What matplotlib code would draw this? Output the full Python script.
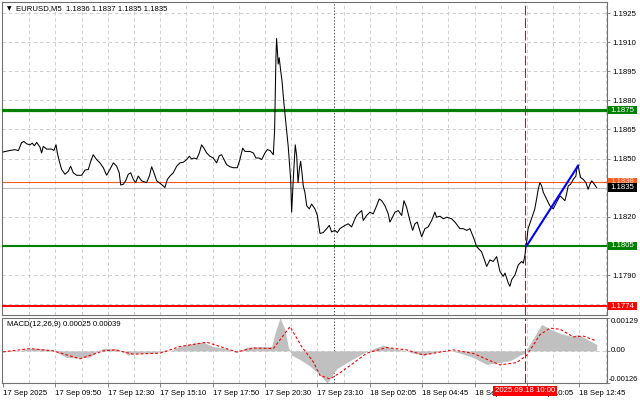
import matplotlib
matplotlib.use("Agg")
import matplotlib.pyplot as plt
from matplotlib.patches import Rectangle
from matplotlib.transforms import blended_transform_factory

plt.rcParams['font.family'] = ['Liberation Sans', 'DejaVu Sans']
plt.rcParams['lines.scale_dashes'] = False

# close price line, x = M5 bar number from the first visible bar
price_i = [0, 4.3, 7.3, 9.4, 11.4, 12.8, 14.5, 16.5, 17.9, 19.1, 20.6, 21.6, 22.6, 23.6, 24.6, 26.7,
           29.7, 31.1, 32.4, 33.2, 34.4, 35.8, 37.9, 39.9, 41.3, 42.9, 45, 48, 50.1, 52.1, 53.6, 55.1,
           57.2, 59.2, 61.3, 63.3, 65.3, 67.4, 69.4, 71, 71.9, 73.5, 75.1, 76.5, 78, 79.6, 81, 82.6,
           84.7, 87.7, 89.4, 90.8, 92.2, 93.9, 95.9, 97.9, 98.9, 100.4, 102, 104, 106.1, 108.1, 110.1,
           112.2, 113.8, 115.2, 116.6, 118.3, 119.9, 121.3, 122.7, 124.4, 126.4, 128.4, 130.5, 132.1,
           133.5, 135, 136.6, 138.6, 140.6, 143.1, 144.7, 146.4, 147.8, 150.8, 152.9, 154.5, 156.5,
           158, 160, 161.4, 163.1,
           165.1, 165.9, 166.7, 167.1, 168.1, 168.7, 169.6, 170.4, 171.6, 172.8, 174.2, 175.7, 176.3,
           177.3, 178.5, 179.4, 180.2, 181, 181.8, 182.6, 183.4, 184.4, 185.5, 187.1, 188.5, 190.5,
           192, 193.6, 195.6, 197.7, 199.3, 200.7, 202.7, 204.2, 205.8,
           208.9, 210.9, 212.9, 215, 216, 218, 219.1, 220, 222.1, 224.1, 226.1, 228.2, 229.8, 231.3,
           233.3, 235.3, 236.3, 237.4, 239.4, 241.4, 243.5, 244.9, 246.5, 248.5, 250.2, 251.6, 253,
           254.2, 255.7, 257.7, 259.7, 261.8, 263.8, 264.8, 266.9, 268.9, 271, 274, 276, 279.1, 281.1,
           283.2, 285.2, 287.6, 289.3, 292.3, 294.4, 295.4, 297.4, 299.4, 301.5, 303.5, 305.5, 306.6,
           308.6, 309.6, 310.7, 312.7, 314.7, 316.8, 317.8, 318.8, 319.8,
           320.7, 322.8, 323.8, 324.8, 325.9, 326.9, 327.9, 329, 330, 332, 334, 336.1, 338.1, 340.2,
           342.2, 343.2, 344.2, 345.2, 346.7, 348.3, 349.9, 350.7, 351.3, 351.9, 352.8, 354.4, 356,
           357.4, 358.5, 359.5, 360.5, 362.6]
price_v = [1.18534, 1.18542, 1.18546, 1.18541, 1.18583, 1.18588, 1.18576, 1.18571, 1.18580, 1.18566,
           1.18583, 1.18571, 1.18559, 1.18529, 1.18563, 1.18549, 1.18549, 1.18542, 1.18571, 1.18529,
           1.18486, 1.18444, 1.18419, 1.18435, 1.18461, 1.18427, 1.18414, 1.18414, 1.18441, 1.18444,
           1.18486, 1.18520, 1.18495, 1.18478, 1.18453, 1.18414, 1.18444, 1.18478, 1.18461, 1.18427,
           1.18364, 1.18368, 1.18388, 1.18419, 1.18427, 1.18393, 1.18376, 1.18410,
           1.18385, 1.18376, 1.18410, 1.18458, 1.18427, 1.18385, 1.18373, 1.18359, 1.18351, 1.18393,
           1.18410, 1.18427, 1.18461, 1.18478, 1.18481, 1.18495, 1.18512, 1.18498, 1.18503, 1.18498,
           1.18529, 1.18571, 1.18554, 1.18529, 1.18512, 1.18503, 1.18478, 1.18515, 1.18520, 1.18495,
           1.18469, 1.18458, 1.18453, 1.18453, 1.18495, 1.18554, 1.18537, 1.18537, 1.18529, 1.18503,
           1.18503, 1.18495, 1.18529, 1.18546, 1.18542,
           1.18520, 1.18647, 1.19020, 1.19119, 1.18987, 1.19020, 1.18953, 1.18902, 1.18783, 1.18682,
           1.18563, 1.18393, 1.18224, 1.18393, 1.18571, 1.18512, 1.18376, 1.18444, 1.18486, 1.18427,
           1.18359, 1.18326, 1.18257, 1.18241, 1.18266, 1.18241, 1.18207, 1.18114, 1.18119, 1.18139,
           1.18156, 1.18122, 1.18130, 1.18119, 1.18139,
           1.18156, 1.18164, 1.18148, 1.18190, 1.18207, 1.18224, 1.18232, 1.18181, 1.18207, 1.18224,
           1.18215, 1.18257, 1.18292, 1.18283, 1.18257, 1.18215, 1.18173, 1.18190, 1.18224, 1.18232,
           1.18207, 1.18283, 1.18249, 1.18181, 1.18130, 1.18164, 1.18173, 1.18139, 1.18097, 1.18139,
           1.18148, 1.18181, 1.18224, 1.18198, 1.18203, 1.18190, 1.18198, 1.18190, 1.18173, 1.18139,
           1.18139, 1.18130, 1.18139, 1.18088, 1.18046, 1.18020, 1.17970, 1.17944, 1.17978, 1.17970,
           1.17995, 1.17919, 1.17893, 1.17910, 1.17859, 1.17842, 1.17876, 1.17901, 1.17952, 1.17970,
           1.17961, 1.18003, 1.18071,
           1.18139, 1.18190, 1.18215, 1.18241, 1.18292, 1.18342, 1.18376, 1.18359, 1.18326, 1.18292,
           1.18257, 1.18241, 1.18275, 1.18308, 1.18292, 1.18283, 1.18317, 1.18359, 1.18368, 1.18393,
           1.18410, 1.18461, 1.18464, 1.18435, 1.18402, 1.18393, 1.18376, 1.18342, 1.18368, 1.18385,
           1.18376, 1.18350]

# MACD(12,26,9) histogram and signal
hist_i = [0, 8.4, 16.5, 24.6, 30.7, 33.8, 38.9, 45, 53.1, 57.2, 61.3, 69.4, 73.5, 76.5, 79.6, 87.7,
          95.9, 102, 108.1, 116.2, 122.3, 128.4, 136.6, 142.7, 148.8, 156.9, 164.1, 166.1, 169.2,
          172.2, 174.2, 176.3, 181.4, 187.5, 193.6, 198, 203.8, 214, 222.1, 232.2, 238.4, 244.5,
          250.6, 256.7, 264.9, 273, 279.1, 287.2, 295.4, 301.5, 309.6, 315.7, 318.8, 320.8, 324.9,
          329, 334, 340.2, 346.3, 351.3, 356.4, 362.6]
hist_v = [-0.00003, 0, 0.0001, 0.00009, 0.00002, -0.00009, -0.00026, -0.00028, -0.00024, -0.00004,
          0.0001, 0.00009, -0.00004, -0.00017, -0.0001, -0.00009, -0.00004, 0, 0.00017, 0.0003,
          0.00034, 0.00017, 0.00009, -0.00007, 0.00015, 0.00017, 0.00017, 0.0007, 0.00129, 0.00086,
          0.00017, -0.00017, -0.00034, -0.0006, -0.00095, -0.00126, -0.0007, -0.00031, -0.00002, 0.00023,
          0.00009, 0.00003, -0.00009, -0.00017, -0.00004, 0.00002, -0.00009, -0.00026, -0.00053, -0.00047,
          -0.00039, -0.00017, -0.00009, 0.00017, 0.0006, 0.00104, 0.00086, 0.00069, 0.00058, 0.00064,
          0.00047, 0.00025]
sig_i = [0, 16.5, 30.7, 47, 61.3, 68.4, 79.6, 95.9, 108.1, 124.4, 142.7, 152.9, 165.1, 175.3, 182.4,
         189.5, 193.6, 199.7, 205.8, 214, 222.1, 234.3, 246.5, 256.7, 275, 287.2, 303.5, 313.7, 319.8,
         327.9, 334, 340.2, 348.3, 354.4, 362.6]
sig_v = [-0.00004, 0.00009, 0, -0.00031, 0, 0.00004, -0.00013, -0.00009, 0.00017, 0.00034,
         -0.00004, 0.00011, 0.00009, 0.00095, 0.00017, -0.00043, -0.00096, -0.0011, -0.00086, -0.00048,
         -0.00009, 0.00013, 0.00004, -0.00016, 0.00004, -0.0001, -0.00055, -0.00046, -0.00018, 0.00063,
         0.00089, 0.00085, 0.00055, 0.00058, 0.00039]

# drawn objects
trend_i = [319.8, 351.3]
trend_v = [1.18050, 1.18464]
support_res = [1.1875, 1.1805, 1.1774]
level_colors = ['#008000', '#008000', '#ff0000']
level_widths = [2.3, 1.5, 1.4]
ask_price = 1.1838
bid_price = 1.1835
event_i = 319
event_label = '2025.09.18 10:00'
day_sep_i = 202

time_i = [0, 32, 64, 96, 128, 160, 192, 224, 256, 288, 320, 352]
time_labels = ['17 Sep 2025', '17 Sep 09:50', '17 Sep 12:30', '17 Sep 15:10', '17 Sep 17:50',
               '17 Sep 20:30', '17 Sep 23:10', '18 Sep 02:05', '18 Sep 04:45', '18 Sep 07:25',
               '18 Sep 10:05', '18 Sep 12:45']
price_ticks = [1.1775, 1.1790, 1.1805, 1.1820, 1.1835, 1.1850, 1.1865, 1.1880, 1.1895, 1.1910, 1.1925]
# tick labels that sit under a price box are not shown
hidden_ticks = [1.1775, 1.1805, 1.1835]

fs = 5.6
grid_kw = dict(color='#c8c8c8', lw=0.6, ls=(0, (2.5, 2)), zorder=0)
spine_col = '#707070'

fig = plt.figure(figsize=(6.4, 4.01), dpi=100)
W, H = 640, 401
ax = fig.add_axes([2 / W, 1 - 315 / H, 605 / W, 313 / H])
ax2 = fig.add_axes([2 / W, 1 - 383 / H, 605 / W, 65 / H])

for a in (ax, ax2):
    a.set_xlim(-0.6, 368.9)
    for s in a.spines.values():
        s.set_color(spine_col)
        s.set_linewidth(0.8)
    for g in range(16, 369, 16):
        a.axvline(g, **grid_kw)
    a.axvline(day_sep_i, color='#505050', lw=0.7, ls=(0, (1, 1.3)), zorder=1)
    a.axvline(event_i, color='#ff0000', lw=0.8, ls=(0, (7, 2)), zorder=4)

# ---- main price panel
ax.set_ylim(1.17694, 1.19307)
for p in price_ticks:
    ax.axhline(p, **grid_kw)
ax.yaxis.tick_right()
ax.set_yticks(price_ticks)
ax.set_yticklabels(['' if p in hidden_ticks else '%.4f' % p for p in price_ticks])
ax.tick_params(axis='y', labelsize=fs, length=2.5, width=0.6, color=spine_col, pad=1.5)
ax.set_xticks([])

ax.axhline(bid_price, color='#c0c0c0', lw=0.8, zorder=2)
ax.axhline(ask_price, color='#ff5a1e', lw=0.8, zorder=2)
for lv, c, w in zip(support_res, level_colors, level_widths):
    ax.axhline(lv, color=c, lw=w, zorder=3)

ax.plot(price_i, price_v, color='black', lw=0.75, zorder=5)
ax.plot(trend_i, trend_v, color='#0000ff', lw=1.5, zorder=6)

ytrans = blended_transform_factory(ax.transAxes, ax.transData)
box_h = 0.00045


def price_box(val, face, txt_col):
    ax.add_patch(Rectangle((1.0017, val - box_h / 2), 0.048, box_h, transform=ytrans,
                           facecolor=face, edgecolor='none', clip_on=False, zorder=10))
    ax.text(1.0017 + 0.024, val, '%.4f' % val, transform=ytrans, ha='center', va='center',
            fontsize=fs, color=txt_col, clip_on=False, zorder=11)


price_box(1.1875, '#008000', 'white')
price_box(ask_price, '#ff5a1e', '#ffd8c8')
price_box(bid_price, '#000000', 'white')
price_box(1.1805, '#008000', 'white')
price_box(1.1774, '#ff0000', 'white')

ax.text(5 / 605, 1 - 7 / 313, '\u25bc', transform=ax.transAxes, fontsize=4.2, va='center',
        ha='left', family=['DejaVu Sans'])
ax.text(14 / 605, 1 - 7 / 313, 'EURUSD,M5  1.1836 1.1837 1.1835 1.1835', transform=ax.transAxes,
        fontsize=fs, va='center', ha='left')

# ---- MACD panel
ax2.set_ylim(-0.00126, 0.00129)
ax2.axhline(0, **grid_kw)
ax2.fill_between(hist_i, 0, hist_v, color='#c0c0c0', lw=0, zorder=2)
ax2.plot(sig_i, sig_v, color='#ff0000', lw=0.8, ls=(0, (2, 1.5)), zorder=3)
ax2.yaxis.tick_right()
ax2.set_yticks([-0.00126, 0, 0.00129])
ax2.set_yticklabels([])
ax2.tick_params(axis='y', length=2.5, width=0.6, color=spine_col)
ytr2 = ax2.get_yaxis_transform()
ax2.text(1.0065, 0.00129, '0.00129', transform=ytr2, fontsize=fs, va='top', ha='left')
ax2.text(1.0065, 0, '0.00', transform=ytr2, fontsize=fs, va='center', ha='left')
ax2.text(1.0025, -0.00126, '-0.00126', transform=ytr2, fontsize=fs * 0.95, va='bottom', ha='left')
ax2.text(5 / 605, 1 - 6 / 65, 'MACD(12,26,9) 0.00025 0.00039', transform=ax2.transAxes,
         fontsize=fs, va='center', ha='left')

ax2.set_xticks(time_i)
ax2.set_xticklabels(time_labels, ha='left')
ax2.tick_params(axis='x', labelsize=fs, length=3, width=0.6, color=spine_col, pad=2)

xtr = blended_transform_factory(ax2.transData, ax2.transAxes)
ax2.add_patch(Rectangle((299.2, -0.2), 39.1, 0.155, transform=xtr, facecolor='#ff0000',
                        edgecolor='none', clip_on=False, zorder=10))
ax2.text(event_i, -0.1225, event_label, transform=xtr, ha='center', va='center', fontsize=fs,
         color='white', clip_on=False, zorder=11)

fig.savefig('out.png', dpi=100)
